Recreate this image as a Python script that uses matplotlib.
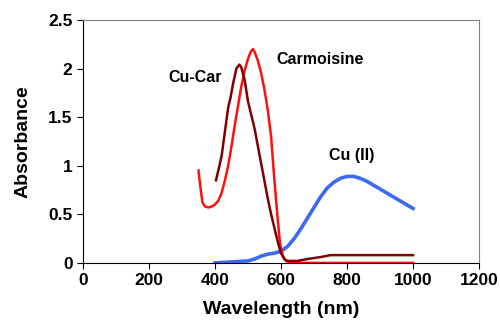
import matplotlib
matplotlib.use("Agg")
from matplotlib import pyplot as plt

plt.rcParams['font.family'] = ['Liberation Sans', 'DejaVu Sans']
plt.rcParams['font.weight'] = 'bold'

# Carmoisine
carm_wl = [350, 355, 362, 370, 380, 390, 400, 410, 420, 430, 440, 450, 460, 470, 480, 490,
           500, 508, 515, 520, 530, 540, 550, 560, 570, 580, 590, 597, 605, 612, 620, 650, 700, 800, 900, 1000]
carm_abs = [0.95, 0.8, 0.62, 0.58, 0.57, 0.58, 0.6, 0.64, 0.72, 0.85, 1.0, 1.2, 1.42, 1.62, 1.82, 1.98,
            2.1, 2.17, 2.2, 2.17, 2.08, 1.95, 1.78, 1.57, 1.3, 0.85, 0.45, 0.2, 0.08, 0.03, 0.01, 0.0, 0.0, 0.0, 0.0, 0.0]

# Cu-Car complex
cucar_wl = [403, 410, 420, 430, 440, 447, 455, 465, 474, 480, 490, 500, 510, 520, 530, 540,
            550, 560, 570, 580, 590, 600, 610, 620, 650, 680, 700, 720, 750, 800, 900, 1000]
cucar_abs = [0.85, 0.95, 1.1, 1.35, 1.6, 1.7, 1.85, 2.0, 2.04, 2.01, 1.88, 1.66, 1.52, 1.38, 1.2, 1.02,
             0.84, 0.66, 0.5, 0.36, 0.22, 0.1, 0.04, 0.02, 0.02, 0.04, 0.05, 0.06, 0.08, 0.08, 0.08, 0.08]

# Cu (II)
cu_wl = [400, 450, 500, 520, 540, 560, 580, 600, 620, 640, 660, 680, 700, 720, 740, 760,
         780, 800, 820, 840, 860, 880, 900, 920, 940, 960, 980, 1000]
cu_abs = [0.0, 0.01, 0.02, 0.04, 0.07, 0.09, 0.1, 0.12, 0.17, 0.25, 0.35, 0.46, 0.57, 0.68, 0.77, 0.83,
          0.87, 0.89, 0.89, 0.87, 0.84, 0.8, 0.76, 0.72, 0.68, 0.64, 0.6, 0.56]

fig = plt.figure(figsize=(5, 3.21), dpi=100)
ax = fig.add_axes([0.166, 0.181, 0.792, 0.757])

ax.plot(cu_wl, cu_abs, color='#3d6af0', lw=2.6)
ax.plot(carm_wl, carm_abs, color='#ff1010', lw=1.8)
ax.plot(cucar_wl, cucar_abs, color='#800000', lw=1.8)

ax.text(718, 2.09, 'Carmoisine', fontsize=11.5, fontweight='bold', ha='center', va='center')
ax.text(340, 1.91, 'Cu-Car', fontsize=11.5, fontweight='bold', ha='center', va='center')
ax.text(815, 1.11, 'Cu (II)', fontsize=11.5, fontweight='bold', ha='center', va='center')

ax.set_xlim(0, 1200)
ax.set_ylim(0, 2.5)
ax.set_xticks(range(0, 1201, 200))
ax.set_yticks([0, 0.5, 1, 1.5, 2, 2.5])
ax.set_yticklabels(['0', '0.5', '1', '1.5', '2', '2.5'])
ax.tick_params(labelsize=12.5, direction='out', length=4)
for lab in ax.get_xticklabels() + ax.get_yticklabels():
    lab.set_fontweight('bold')
ax.set_xlabel('Wavelength (nm)', fontsize=14, fontweight='bold', labelpad=9)
ax.set_ylabel('Absorbance', fontsize=14, fontweight='bold', labelpad=12)
ax.spines['top'].set_color('#808080')
ax.spines['right'].set_color('#808080')

fig.savefig('out.png')
